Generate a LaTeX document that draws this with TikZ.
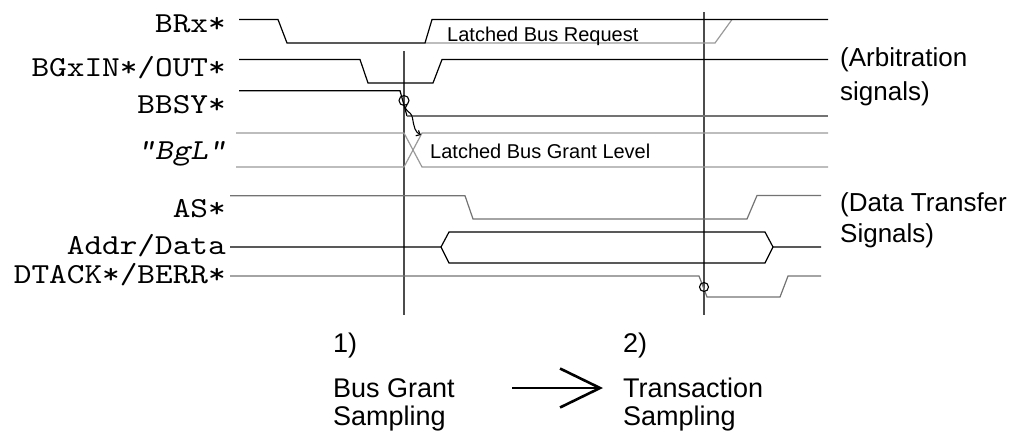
\documentclass[tikz,border=0pt]{standalone}
\usepackage{fontspec}
\setmainfont{Liberation Sans}
\newfontfamily\sigmono{lmmono10-regular.otf}[FakeStretch=1.16]
\newfontfamily\sigmonosl{lmmono10-regular.otf}[FakeStretch=1.16, FakeSlant=0.2]
\usetikzlibrary{arrows.meta}
\definecolor{latch}{gray}{0.6}
\definecolor{midgray}{gray}{0.45}
\definecolor{darkline}{gray}{0.3}
\begin{document}
\begin{tikzpicture}[x=1pt,y=-1pt,
  siglabel/.style={anchor=base east, inner sep=0pt, font=\sigmono\fontsize{29}{29}\selectfont},
  sidelabel/.style={anchor=base west, inner sep=0pt, font=\fontsize{26}{26}\selectfont},
  innerlabel/.style={anchor=base west, inner sep=0pt, font=\fontsize{20}{20}\selectfont},
  bottomlabel/.style={anchor=base west, inner sep=0pt, font=\fontsize{27}{27}\selectfont},
  wave/.style={line width=1.2pt, line join=miter},
  marker/.style={line width=1.1pt, black},
  sampler/.style={line width=1.1pt, darkline}
]
\useasboundingbox (0,0) rectangle (1009,437);

% signal names
\node[siglabel] (lbrx)  at (226,32)  {BRx*};
\node[siglabel] (lbgx)  at (226,76)  {BGxIN*/OUT*};
\node[siglabel] (lbbsy) at (226,113) {BBSY*};
\node[siglabel, font=\sigmonosl\fontsize{29}{29}\selectfont] (lbgl) at (226,159) {"BgL"};
\node[siglabel] (las)   at (226,217) {AS*};
\node[siglabel] (laddr) at (226,254) {Addr/Data};
\node[siglabel] (ldtk)  at (226,283) {DTACK*/BERR*};

% sampling lines
\coordinate (s1top) at (404,51);
\coordinate (s1bot) at (404,315);
\coordinate (s2top) at (704,12);
\coordinate (s2bot) at (704,315);
\draw[sampler] (s1top) -- (s1bot);
\draw[sampler] (s2top) -- (s2bot);

% BRx*
\draw[wave, latch] (425,43) -- (715,43) -- (732,19.5);
\draw[wave] (239,19.5) -- (278,19.5) -- (287,43) -- (425,43) -- (432,19.5) -- (828,19.5);
\node[innerlabel] (tlbr) at (447,41) {Latched Bus Request};

% BGxIN*/OUT*
\draw[wave] (239,59.5) -- (360,59.5) -- (368,83) -- (433,83) -- (442,59.5) -- (828,59.5);

% BBSY*
\draw[wave] (239,90.7) -- (400,90.7) -- (407,116);
\draw[wave, midgray] (407,116) -- (828,116);

% "BgL"
\draw[wave, latch] (236,133) -- (404,133) -- (422,167) -- (828,167);
\draw[wave, latch] (236,167) -- (404,167) -- (422,133) -- (828,133);
\node[innerlabel] (tlbg) at (430,158) {Latched Bus Grant Level};

% causality mark BBSY -> BgL
\draw[marker] (404,100.5) circle (5);
\draw[marker, -{Straight Barb[length=3.5pt,width=6pt]}]
  (407,105) .. controls (402,111) and (411,110) .. (412.5,118)
  .. controls (414,127) and (415,132) .. (421,135);

% AS*
\draw[wave, midgray] (230,195.7) -- (465,195.7) -- (473,219) -- (747,219) -- (757,195.5) -- (821,195.5);

% Addr/Data
\draw[wave] (230,247) -- (441,247) -- (449,232) -- (765,232) -- (773,247) -- (821,247);
\draw[wave] (441,247) -- (449,263) -- (765,263) -- (773,247);

% DTACK*/BERR*
\draw[wave, midgray] (230,276) -- (699,276) -- (707,297) -- (780,297) -- (788,276) -- (821,276);
\draw[marker] (704,287) circle (4.5);

% group labels
\node[sidelabel] (garb1) at (840,66)  {(Arbitration};
\node[sidelabel] (garb2) at (840,100) {signals)};
\node[sidelabel] (gdt1)  at (840,211) {(Data Transfer};
\node[sidelabel] (gdt2)  at (840,242) {Signals)};

% bottom phases
\node[bottomlabel] (p1a) at (333,352) {1)};
\node[bottomlabel] (p1b) at (333,397) {Bus Grant};
\node[bottomlabel] (p1c) at (333,425) {Sampling};
\node[bottomlabel] (p2a) at (623,352) {2)};
\node[bottomlabel] (p2b) at (623,397) {Transaction};
\node[bottomlabel] (p2c) at (623,425) {Sampling};
\coordinate (arS) at (512,388);
\coordinate (arE) at (603,388);
\draw[line width=2.6pt, -{Straight Barb[length=40pt,width=39pt]}] (arS) -- (arE);
\end{tikzpicture}
\end{document}
